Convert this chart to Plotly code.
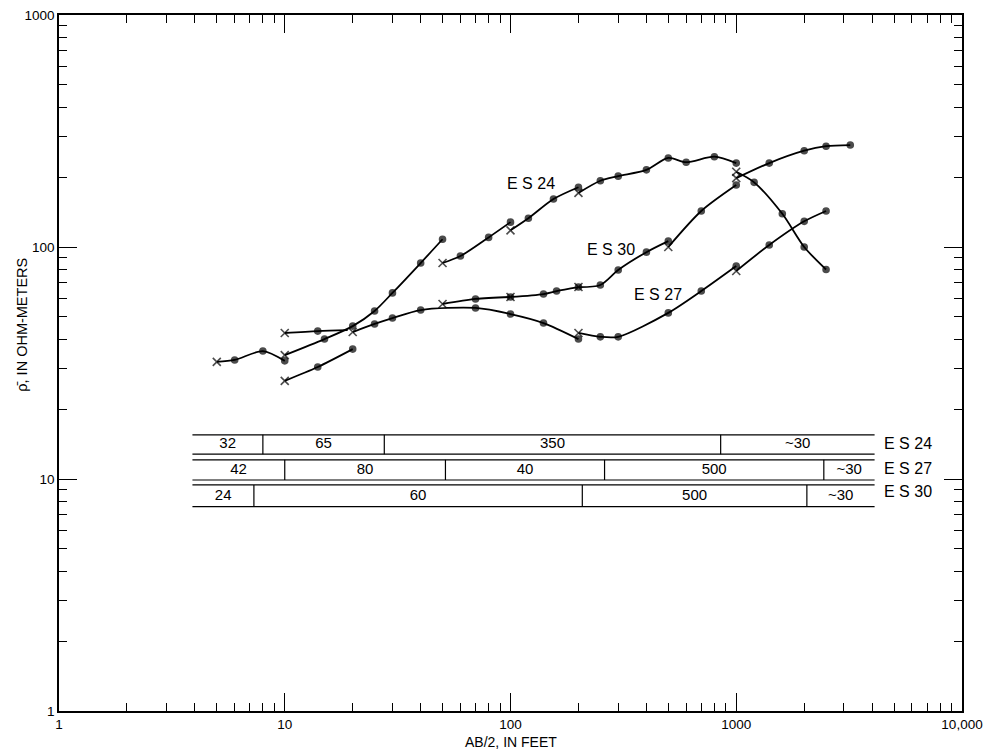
import math
import plotly.graph_objects as go

# ---------------- data (AB/2 in feet, apparent resistivity in ohm-meters) ----------------
# ES 24 sounding segments (each segment starts at an overlap point marked with an x)
es24_a_x = [5, 6, 8, 10]
es24_a_rho = [32, 32.6, 35.6, 32.3]
es24_b_x = [10, 15, 20, 25, 30, 40, 50]
es24_b_rho = [34.2, 40.1, 45.6, 53, 63.4, 85.3, 108]
es24_c_x = [50, 60, 80, 100]
es24_c_rho = [85.3, 91.4, 110, 128]
es24_d_x = [100, 120, 155, 200]
es24_d_rho = [118, 133, 161, 181]
es24_e_x = [200, 250, 300, 400, 500, 600, 800, 1000]
es24_e_rho = [171, 193, 202, 215, 242, 232, 245, 230]
es24_f_x = [1000, 1200, 1600, 2000, 2500]
es24_f_rho = [211, 190, 139, 100, 80]

# ES 27 sounding segments
es27_a_x = [10, 14, 19]
es27_a_rho = [42.6, 43.4, 43.8]
es27_b_x = [20, 25, 30, 40, 70, 100, 140, 200]
es27_b_rho = [43.0, 46.6, 49.4, 53.5, 54.6, 51.4, 47, 40.1]
es27_c_x = [200, 250, 300, 500, 700, 1000]
es27_c_rho = [42.6, 41.0, 41.0, 52, 64.6, 82.8]
es27_d_x = [1000, 1400, 2000, 2500]
es27_d_rho = [78.8, 102, 129, 143]

# ES 30 sounding segments
es30_a_x = [10, 14, 20]
es30_a_rho = [26.5, 30.4, 36.3]
es30_b_x = [50, 70, 100]
es30_b_rho = [56.8, 59.7, 60.9]
es30_c_x = [100, 140, 160, 200]
es30_c_rho = [60.9, 62.7, 64.6, 67.2]
es30_d_x = [200, 250, 300, 400, 500]
es30_d_rho = [67.2, 68.6, 79.6, 95, 106]
es30_e_x = [500, 700, 1000]
es30_e_rho = [100, 143, 185]
es30_f_x = [1000, 1400, 2000, 2500, 3200]
es30_f_rho = [198, 230, 260, 272, 275]

# interpreted layer sections (boundaries along the AB/2 scale, layer resistivities)
es24_layer_bounds = [3.9, 8, 27.6, 853, 4100]
es24_layer_rho = ["32", "65", "350", "~30"]
es27_layer_bounds = [3.9, 10, 51.5, 261, 2443, 4100]
es27_layer_rho = ["42", "80", "40", "500", "~30"]
es30_layer_bounds = [3.9, 7.3, 208, 2055, 4100]
es30_layer_rho = ["24", "60", "500", "~30"]

x_tick_vals = [1, 10, 100, 1000, 10000]
x_tick_text = ["1", "10", "100", "1000", "10,000"]
y_tick_vals = [1, 10, 100, 1000]
y_tick_text = ["1", "10", "100", "1000"]

FONT = "Liberation Sans"

fig = go.Figure()


def add_segment(xs, ys, hide_last=False):
    n = len(xs)
    symbols = ["x-thin"] + ["circle"] * (n - 1)
    sizes = [8] + [6] * (n - 1)
    if hide_last:
        sizes[-1] = 0
    fig.add_trace(go.Scatter(
        x=xs, y=ys, mode="lines+markers",
        line=dict(color="black", width=1.8, shape="spline", smoothing=0.8),
        marker=dict(symbol=symbols, size=sizes, color="black",
                    line=dict(color="black", width=1.6)),
        hoverinfo="skip", showlegend=False))


for sx, sy in [(es24_a_x, es24_a_rho), (es24_b_x, es24_b_rho), (es24_c_x, es24_c_rho),
               (es24_d_x, es24_d_rho), (es24_e_x, es24_e_rho), (es24_f_x, es24_f_rho)]:
    add_segment(sx, sy)
add_segment(es27_a_x, es27_a_rho, hide_last=True)
for sx, sy in [(es27_b_x, es27_b_rho), (es27_c_x, es27_c_rho), (es27_d_x, es27_d_rho)]:
    add_segment(sx, sy)
for sx, sy in [(es30_a_x, es30_a_rho), (es30_b_x, es30_b_rho), (es30_c_x, es30_c_rho),
               (es30_d_x, es30_d_rho), (es30_e_x, es30_e_rho), (es30_f_x, es30_f_rho)]:
    add_segment(sx, sy)


def table_row(bounds, labels, lo, hi):
    xs = [bounds[0], bounds[-1], None, bounds[0], bounds[-1]]
    ys = [hi, hi, None, lo, lo]
    for b in bounds[1:-1]:
        xs += [None, b, b]
        ys += [None, lo, hi]
    fig.add_trace(go.Scatter(x=xs, y=ys, mode="lines",
                             line=dict(color="black", width=1.2),
                             hoverinfo="skip", showlegend=False))
    mids = [math.sqrt(a * b) for a, b in zip(bounds[:-1], bounds[1:])]
    ymid = math.sqrt(lo * hi)
    fig.add_trace(go.Scatter(x=mids, y=[ymid] * len(mids), mode="text", text=labels,
                             textposition="middle center",
                             textfont=dict(family=FONT, size=15, color="black"),
                             hoverinfo="skip", showlegend=False))


table_row(es24_layer_bounds, es24_layer_rho, 12.8, 15.5)
table_row(es27_layer_bounds, es27_layer_rho, 9.9, 12.1)
table_row(es30_layer_bounds, es30_layer_rho, 7.6, 9.43)

annotations = []
# curve labels (log10 coordinates for annotations on log axes)
for txt, lx, ly in [("E S 24", 2.089, 2.272), ("E S 30", 2.443, 1.991), ("E S 27", 2.652, 1.797)]:
    annotations.append(dict(x=lx, y=ly, xref="x", yref="y", text=txt, showarrow=False,
                            font=dict(family=FONT, size=16, color="black"),
                            xanchor="center", yanchor="middle"))
for txt, ly in [("E S 24", 1.151), ("E S 27", 1.047), ("E S 30", 0.944)]:
    annotations.append(dict(x=3.645, y=ly, xref="x", yref="y", text=txt, showarrow=False,
                            font=dict(family=FONT, size=16, color="black"),
                            xanchor="left", yanchor="middle"))
annotations.append(dict(x=0.5, y=-0.0445, xref="paper", yref="paper", text="AB/2, IN FEET",
                        showarrow=False, font=dict(family=FONT, size=14, color="black"),
                        xanchor="center", yanchor="middle"))
annotations.append(dict(x=-0.041, y=0.555, xref="paper", yref="paper",
                        text="\u03c1\u0304, IN OHM-METERS", textangle=-90,
                        showarrow=False, font=dict(family=FONT, size=14.5, color="black"),
                        xanchor="center", yanchor="middle"))

x_minor = [k * 10 ** d for d in range(0, 4) for k in range(2, 10)]
y_minor = [k * 10 ** d for d in range(0, 3) for k in range(2, 10)]

# the page body adds an 8 px margin at top/left, so the figure is offset accordingly
fig.update_layout(
    width=989, height=746,
    margin=dict(l=51, r=35, t=7, b=43, autoexpand=False),
    paper_bgcolor="white", plot_bgcolor="white",
    showlegend=False,
    font=dict(family=FONT, color="black"),
    annotations=annotations,
)
fig.update_xaxes(type="log", range=[0, 4], showgrid=False, zeroline=False, automargin=False,
                 showline=True, linecolor="black", linewidth=1.5, mirror="allticks",
                 ticks="inside", ticklen=18, tickwidth=1.3, tickcolor="black",
                 tickmode="array", tickvals=x_tick_vals, ticktext=x_tick_text,
                 ticklabeloverflow="allow",
                 tickfont=dict(family=FONT, size=13.5, color="black"),
                 minor=dict(ticks="inside", ticklen=8, tickwidth=1, tickcolor="black",
                            tickmode="array", tickvals=x_minor, showgrid=False))
fig.update_yaxes(type="log", range=[0, 3], showgrid=False, zeroline=False, automargin=False,
                 showline=True, linecolor="black", linewidth=1.5, mirror="allticks",
                 ticks="inside", ticklen=18, tickwidth=1.3, tickcolor="black",
                 tickmode="array", tickvals=y_tick_vals, ticktext=y_tick_text,
                 ticklabeloverflow="allow",
                 tickfont=dict(family=FONT, size=13.5, color="black"),
                 minor=dict(ticks="inside", ticklen=8, tickwidth=1, tickcolor="black",
                            tickmode="array", tickvals=y_minor, showgrid=False))

fig.write_html("out.html")
